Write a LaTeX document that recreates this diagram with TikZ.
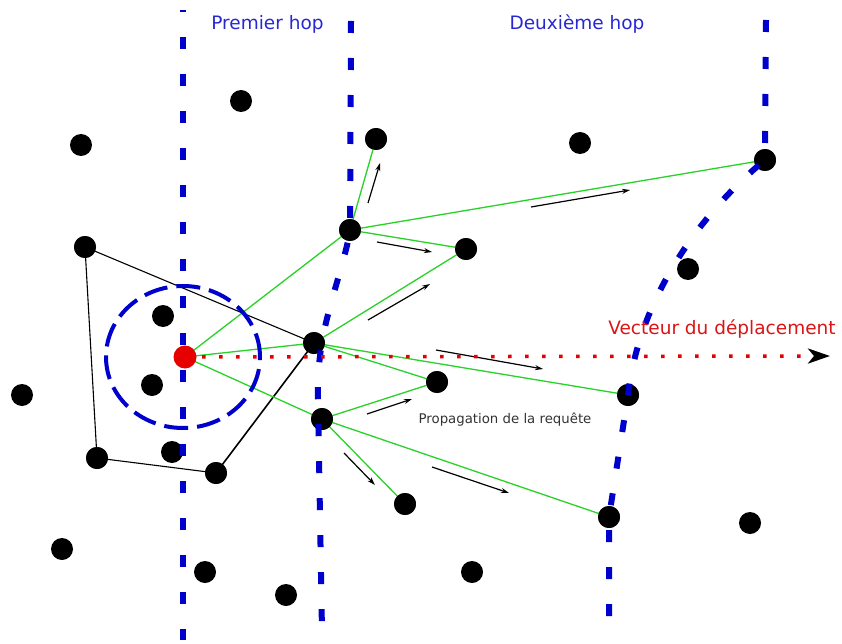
\documentclass[tikz,border=0pt]{standalone}
\usepackage{fontspec}
\setmainfont{DejaVu Sans}
\usetikzlibrary{arrows.meta}
\definecolor{hopblue}{RGB}{0,0,205}
\definecolor{hoptext}{RGB}{40,40,210}
\definecolor{vred}{RGB}{230,0,0}
\definecolor{vtext}{RGB}{220,20,20}
\definecolor{pgreen}{RGB}{40,210,40}
\tikzset{
  dot/.style={circle,fill=black,minimum size=22pt,inner sep=0pt},
  srcdot/.style={circle,fill=vred,minimum size=23pt,inner sep=0pt},
  hopline/.style={hopblue,line width=6pt,dash pattern=on 12pt off 25pt},
  rangecircle/.style={hopblue,line width=4pt,dash pattern=on 24pt off 9pt},
  prop/.style={pgreen,line width=1.3pt},
  hull/.style={black,line width=1.1pt},
  dir/.style={black,line width=1.2pt,-{Stealth[length=8pt,width=5pt]}},
  lbl/.style={font=\fontsize{18.5}{20}\selectfont,anchor=base,inner sep=0pt}
}
\begin{document}
\begin{tikzpicture}[x=1pt,y=-1pt]
\useasboundingbox (0,0) rectangle (842,644);
% nodes
\node[dot] (n1) at (241,101) {};
\node[dot] (n2) at (81,145) {};
\node[dot] (n3) at (376,139) {};
\node[dot] (n4) at (580,143) {};
\node[dot] (n5) at (765,160) {};
\node[dot] (n6) at (85,247) {};
\node[dot] (n7) at (350,230) {};
\node[dot] (n8) at (466,249) {};
\node[dot] (n9) at (688,269) {};
\node[dot] (n10) at (163,316) {};
\node[dot] (n11) at (314,343) {};
\node[dot] (n12) at (152,385) {};
\node[dot] (n13) at (437,382) {};
\node[dot] (n14) at (22,395) {};
\node[dot] (n15) at (628,395) {};
\node[dot] (n16) at (322,419) {};
\node[dot] (n17) at (172,452) {};
\node[dot] (n18) at (97,458) {};
\node[dot] (n19) at (216,473) {};
\node[dot] (n20) at (405,504) {};
\node[dot] (n21) at (609,517) {};
\node[dot] (n22) at (750,523) {};
\node[dot] (n23) at (62,549) {};
\node[dot] (n24) at (205,572) {};
\node[dot] (n25) at (286,595) {};
\node[dot] (n26) at (472,572) {};

% hull polygon
\draw[hull] (n6.center) -- (n11.center);
\draw[black,line width=1.6pt] (n11.center) -- (n19.center);
\draw[hull] (n19.center) -- (n18.center) -- (n6.center);

% propagation (green)
\coordinate (src) at (185,357);
\draw[prop] (src) -- (n7.center);
\draw[prop] (src) -- (n11.center);
\draw[prop] (src) -- (n16.center);
\draw[prop] (n7.center) -- (n3.center);
\draw[prop] (n7.center) -- (n5.center);
\draw[prop] (n7.center) -- (n8.center);
\draw[prop] (n11.center) -- (n8.center);
\draw[prop] (n11.center) -- (n15.center);
\draw[prop] (n11.center) -- (n13.center);
\draw[prop] (n16.center) -- (n13.center);
\draw[prop] (n16.center) -- (n20.center);
\draw[prop] (n16.center) -- (n21.center);

% dots back on top of the lines
\foreach \n in {n3,n5,n6,n7,n8,n11,n13,n15,n16,n18,n19,n20,n21}
  \fill (\n) circle (11pt);

% direction arrows
\coordinate (a1s) at (368,203); \coordinate (a1e) at (380,163);
\coordinate (a2s) at (531,207); \coordinate (a2e) at (630,190);
\coordinate (a3s) at (377,242); \coordinate (a3e) at (432,252);
\coordinate (a4s) at (368,320); \coordinate (a4e) at (430,284);
\coordinate (a5s) at (436,350); \coordinate (a5e) at (543,369);
\coordinate (a6s) at (367,414); \coordinate (a6e) at (412,399);
\coordinate (a7s) at (344,453); \coordinate (a7e) at (375,485);
\coordinate (a8s) at (432,467); \coordinate (a8e) at (509,493);
\foreach \i in {1,...,8} \draw[dir] (a\i s) -- (a\i e);

% hop boundaries
\draw[hopline,dash phase=10pt] (183,10) -- (183,640);
\draw[hopline] (351,21) -- (350,232) .. controls (338,290) and (316,330) .. (318,400) -- (322,632);
\draw[hopline] (766,20) -- (765,160) .. controls (710,205) and (640,290) .. (628,395) -- (609,517) -- (609,640);

% range circle
\draw[rangecircle] (183,357) ellipse [x radius=77pt, y radius=71pt];

% movement vector
\coordinate (vend) at (830,356);
\draw[vred,line width=3.5pt,dash pattern=on 3.5pt off 13.5pt,-{Stealth[black,length=22pt,width=15pt,inset=6pt]}] (src) -- (vend);

% source
\node[srcdot] (s) at (src) {};

% labels
\node[lbl,text=hoptext] (t1) at (267.5,30) {Premier hop};
\node[lbl,text=hoptext] (t2) at (577,30) {Deuxième hop};
\node[lbl,text=vtext] (t3) at (722,334) {Vecteur du déplacement};
\node[anchor=base,inner sep=0pt,text=black!80,font=\fontsize{13.3}{15}\selectfont] (t4) at (505,423) {Propagation de la requête};
\end{tikzpicture}
\end{document}
